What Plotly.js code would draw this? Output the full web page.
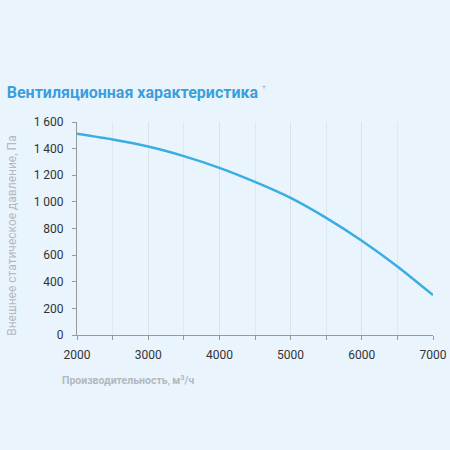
<!DOCTYPE html>
<html>
<head>
<meta charset="utf-8">
<script src="https://cdn.plot.ly/plotly-3.0.1.min.js"></script>
<style>
  html, body { margin: 0; padding: 0; background: #eaf4fd; }
  #chart { width: 450px; height: 450px; }
</style>
</head>
<body>
<div id="chart"></div>
<script>
// airflow, m3/h
const flow = [2000, 2500, 3000, 3500, 4000, 4500, 5000, 5500, 6000, 6500, 7000];
// external static pressure, Pa
const pressure = [1512, 1469, 1416, 1344, 1256, 1150, 1030, 880, 708, 515, 300];

const yTicks = [0, 200, 400, 600, 800, 1000, 1200, 1400, 1600];
const yTickText = ["0", "200", "400", "600", "800", "1 000", "1 200", "1 400", "1 600"];
const xTicks = [2000, 3000, 4000, 5000, 6000, 7000];

const bg = "#eaf4fd";
const labelFont = { family: "Roboto, sans-serif", size: 12, color: "#333" };
const axisTitleFont = { family: "Roboto, sans-serif", size: 12, color: "#b3b8bd" };

const trace = {
  x: flow,
  y: pressure,
  type: "scatter",
  mode: "lines",
  line: { color: "#3aaee3", width: 2.5, shape: "spline", smoothing: 0.6 },
  hoverinfo: "skip",
};

const layout = {
  width: 450,
  height: 450,
  paper_bgcolor: bg,
  plot_bgcolor: bg,
  margin: { l: 77, r: 17, t: 122, b: 115 },
  showlegend: false,
  title: {
    text: "<b>Вентиляционная характеристика</b> <span style='font-size:13px;color:#a9c4d6'><sup>*</sup></span>",
    font: { family: "Roboto, sans-serif", size: 16, color: "#3a9fdc" },
    x: 0.015, xanchor: "left",
    y: 0.795, yanchor: "middle",
  },
  xaxis: {
    range: [2000, 7000],
    tickvals: xTicks,
    tickfont: labelFont,
    ticklabelstandoff: 5,
    showgrid: true,
    gridcolor: "#d9e3ec",
    gridwidth: 1,
    minor: { dtick: 500, tick0: 2000, showgrid: true, gridcolor: "#dfe8f0", ticks: "outside", ticklen: 4, tickcolor: "#999" },
    ticks: "outside",
    ticklen: 4,
    tickcolor: "#999",
    showline: true,
    linecolor: "#999",
    linewidth: 1,
    zeroline: false,
    fixedrange: true,
  },
  yaxis: {
    range: [0, 1600],
    tickvals: yTicks,
    ticktext: yTickText,
    tickfont: labelFont,
    ticklabelstandoff: 6,
    showgrid: false,
    ticks: "outside",
    ticklen: 4,
    tickcolor: "#999",
    showline: true,
    linecolor: "#999",
    linewidth: 1,
    zeroline: false,
    fixedrange: true,
  },
  annotations: [
    {
      text: "<b>Производительность</b>, <b>м<sup>3</sup>/ч</b>",
      font: { family: "Roboto, sans-serif", size: 10.5, color: "#b3b8bd" },
      xref: "paper", yref: "paper",
      x: -0.048, y: -0.211,
      xanchor: "left", yanchor: "middle",
      showarrow: false,
    },
    {
      text: "Внешнее статическое давление, Па",
      font: axisTitleFont,
      xref: "paper", yref: "paper",
      x: -0.183, y: 0.465,
      xanchor: "center", yanchor: "middle",
      textangle: -90,
      showarrow: false,
    },
  ],
};

Plotly.newPlot("chart", [trace], layout, { staticPlot: true, displayModeBar: false });
</script>
</body>
</html>
